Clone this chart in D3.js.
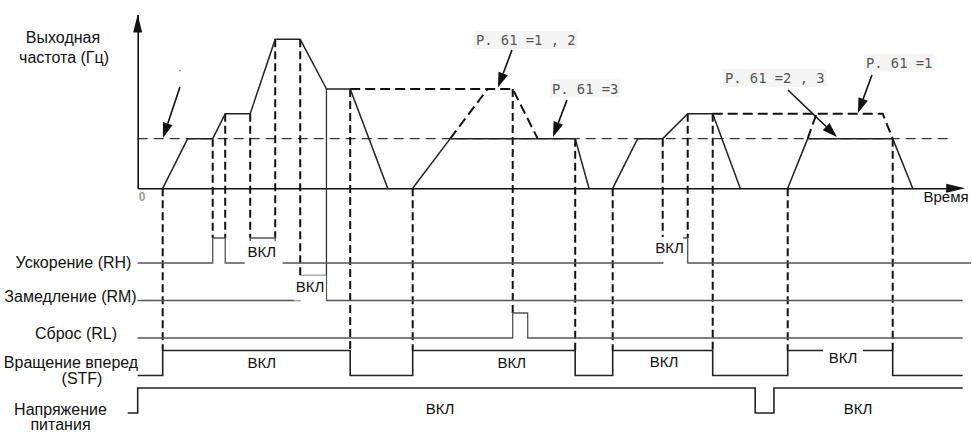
<!DOCTYPE html>
<html><head><meta charset="utf-8">
<script src="https://cdn.jsdelivr.net/npm/d3@7"></script>
<style>
body{margin:0;background:#fff;}
svg{display:block;}
text{font-family:"Liberation Sans",Arial,sans-serif;}
</style>
</head><body>
<svg id="c" width="972" height="433"></svg>
<script>
// ---------------- DATA ----------------
// time in arbitrary units, output frequency in Hz
const freqSolid = [
  [[1,0],[2,20],[3,20],[3.5,30],[4.5,30],[5.5,60],[6.5,60],[7.5,41],[7.55,40],[8.5,40],[10,0]],
  [[11,0],[12.5,20],[17.5,20],[18.05,0]],
  [[19,0],[20,20],[21,20],[22,30],[23,30],[24.1,0]],
  [[26,0],[26.8,20],[30.2,20],[31,0]]
];
const freqDashed = [
  [[8.5,40],[14,40],[15,40],[16,20]],
  [[12.5,20],[14,40]],
  [[23,30],[29.8,30],[30.2,20]],
  [[26.8,20],[27.15,30]]
];
const refFreq = 20;
const refSpan = [0, 32.4];

const rows = ["RH","RM","RL","STF","PWR"];
const rowLabels = [["Ускорение (RH)"],["Замедление (RM)"],["Сброс (RL)"],["Вращение вперед","(STF)"],["Напряжение","питания"]];
const rowSpan = [[0,33.33],[0,33],[0,33],[0,33],[-0.4,33]];
const rhOn  = [[3,3.5],[4.5,5.5],[21,22]];
const rmOn  = [[6.5,7.55]];
const rlOn  = [[15,15.6]];
const stfOn = [[1,8.5],[11,17.5],[19,23],[26,30.2]];
const pwrOn = [[0,24.7],[25.45,33]];

// sync (dashed) lines: time, frequency at top, row where they end
const syncT    = [1, 3, 3.5, 4.5, 5.5, 6.5, 8.5, 11, 15, 17.5, 19, 21, 22, 23, 26, 30.2];
const syncF    = [0, 20, 30, 30, 60, 60, 40, 0, 40, 20, 0, 20, 30, 30, 0, 20];
const syncRow  = ["STF","RH","RH","RH","RH","RM","STF","STF","RL","STF","STF","RH","RH","STF","STF","STF"];

const onText = "ВКЛ";
const onLabelT   = [4.96, 21.27, 6.89, 4.96, 14.96, 21.05, 28.21, 12.09, 28.81];
const onLabelRow = ["RH","RH","RM","STF","STF","STF","STF","PWR","PWR"];

const noteTexts = ["P. 61 =1 , 2", "P. 61 =3", "P. 61 =2 , 3", "P. 61 =1"];
const noteT     = [13.53, 16.57, 23.49, 29.13];
const noteF     = [59.7, 40.1, 44.4, 50.5];
const arrowFrom = [[1.69,40.8],[14.97,55.7],[17.17,35.5],[26.01,39.6],[29.37,45.6]];
const arrowTo   = [[1.01,20.3],[14.41,40.6],[16.61,20.7],[27.97,20.7],[28.81,30.3]];

// ---------------- DRAW ----------------
const svg = d3.select("#c");
const x = d3.scaleLinear().domain([0,33]).range([137.7,962.7]);
const y = d3.scaleLinear().domain([0,60]).range([188.3,39.3]);
const rowY = d3.scalePoint().domain(rows).range([263,413]);
const pulseH = 25;
const line = d3.line().x(d=>x(d[0])).y(d=>y(d[1]));

// reference dashed line
svg.append("path").attr("d", line([[refSpan[0],refFreq],[refSpan[1],refFreq]]))
  .attr("fill","none").attr("stroke","#333").attr("stroke-width",1.3).attr("stroke-dasharray","10,6");

// axes
const xAxisScale = d3.scaleLinear().domain([0,32.6]).range([x(0), x(32.6)]);
svg.append("g").attr("transform",`translate(0,${y(0)})`)
  .call(d3.axisBottom(xAxisScale).tickValues([]).tickSizeOuter(0))
  .select(".domain").attr("stroke","#111").attr("stroke-width",1.6);
const yAxisScale = d3.scaleLinear().domain([0,70]).range([y(0), y(70)]);
svg.append("g").attr("transform",`translate(${x(0)},0)`)
  .call(d3.axisLeft(yAxisScale).tickValues([]).tickSizeOuter(0))
  .select(".domain").attr("stroke","#111").attr("stroke-width",1.6);
// axis arrowheads
const yTop = yAxisScale(70), xEnd = x(33.1);
svg.append("path").attr("d",`M${x(0)},${yTop}L${x(0)-4.5},${yTop+18}L${x(0)+4.5},${yTop+18}Z`).attr("fill","#111");
svg.append("path").attr("d",`M${xEnd},${y(0)}L${xEnd-19},${y(0)-4.5}L${xEnd-19},${y(0)+4.5}Z`).attr("fill","#111");

svg.append("text").attr("x",x(0)+4.5).attr("y",y(0)+13).attr("text-anchor","middle")
  .attr("font-size",12).attr("font-weight","bold").attr("fill","#999").text("0");
svg.append("text").attr("x",946).attr("y",y(0)+14).attr("text-anchor","middle")
  .attr("font-size",15).attr("fill","#111").text("Время");
svg.append("text").attr("x",63).attr("y",37).attr("dy","0.35em").attr("text-anchor","middle")
  .attr("font-size",16).attr("fill","#111").text("Выходная");
svg.append("text").attr("x",64).attr("y",57).attr("dy","0.35em").attr("text-anchor","middle")
  .attr("font-size",16).attr("fill","#111").text("частота (Гц)");

// sync dashed verticals
syncT.forEach((t,i)=>{
  svg.append("line").attr("x1",x(t)).attr("x2",x(t))
    .attr("y1",y(syncF[i])).attr("y2",rowY(syncRow[i])-pulseH)
    .attr("stroke","#111").attr("stroke-width",2).attr("stroke-dasharray","8,4");
});
// solid vertical at RM release
svg.append("line").attr("x1",x(7.55)).attr("x2",x(7.55)).attr("y1",y(40)).attr("y2",rowY("RM")-pulseH)
  .attr("stroke","#333").attr("stroke-width",1.3);

// frequency curves
freqDashed.forEach(seg=>{
  svg.append("path").attr("d",line(seg)).attr("fill","none")
    .attr("stroke","#111").attr("stroke-width",2).attr("stroke-dasharray","10,5");
});
freqSolid.forEach(seg=>{
  svg.append("path").attr("d",line(seg)).attr("fill","none")
    .attr("stroke","#222").attr("stroke-width",1.5).attr("stroke-linejoin","round");
});

// signal rows
function stepPts(span, on){
  const pts=[[span[0],0]];
  on.forEach(([a,b])=>{
    pts.push([a,0],[a,1],[b,1]);
    if (b < span[1]) pts.push([b,0]);
  });
  if (on.length && on[on.length-1][1] >= span[1]) return pts;
  pts.push([span[1],0]);
  return pts;
}
const onSets = [rhOn, rmOn, rlOn, stfOn, pwrOn];
rows.forEach((r,i)=>{
  const base = rowY(r);
  const sl = d3.line().x(d=>x(d[0])).y(d=>base - d[1]*pulseH);
  const strong = (r==="STF"||r==="PWR");
  svg.append("path").attr("d", sl(stepPts(rowSpan[i], onSets[i]))).attr("fill","none")
    .attr("stroke", strong ? "#222" : "#555").attr("stroke-width", strong ? 1.6 : 1.3);
});

// row labels
const rowLabelX = [[73.5],[70.5],[76],[71,82],[60.5,60.5]];
const rowLabelY = [[262],[296],[333],[362,378.5],[409,424.5]];
rowLabels.forEach((ls,i)=>{
  ls.forEach((s,j)=>{
    svg.append("text").attr("x",rowLabelX[i][j]).attr("y",rowLabelY[i][j]).attr("dy","0.35em")
      .attr("text-anchor","middle").attr("font-size",16).attr("fill","#111").text(s);
  });
});

// ВКЛ labels (some with white background boxes)
const onLabelDy  = [-11, -15, -14, -12.5, -12.5, -13.5, -17.5, -4, -4];
const onLabelBox = [[38,25],[29,25],[32,25],null,null,null,[40,18],null,null];
onLabelT.forEach((t,i)=>{
  const cx = x(t), cy = rowY(onLabelRow[i]) + onLabelDy[i];
  if (onLabelBox[i]){
    const [w,h] = onLabelBox[i];
    const dx = (i===0)?2:(i===1?-1:0);
    svg.append("rect").attr("x",cx+dx-w/2).attr("y",cy-h/2+(i<3?1.5:-0.5)).attr("width",w).attr("height",h).attr("fill","#fff");
  }
  svg.append("text").attr("x",cx).attr("y",cy).attr("dy","0.35em").attr("text-anchor","middle")
    .attr("font-size",15).attr("fill","#111").text(onText);
});

// notes
noteTexts.forEach((s,i)=>{
  const t = svg.append("text").attr("x",x(noteT[i])).attr("y",y(noteF[i])).attr("dy","0.35em")
    .style("font-family","'DejaVu Sans Mono',monospace").attr("font-size",13.8).attr("fill","#555").text(s);
  const bb = t.node().getBBox();
  svg.insert("rect", () => t.node()).attr("x",bb.x-2).attr("y",bb.y-1).attr("width",bb.width+4).attr("height",bb.height+2)
    .attr("fill","#f5f5f5");
});
svg.append("text").attr("x",x(1.6)).attr("y",y(46)).attr("font-size",12).attr("fill","#555").text("·");

// annotation arrows
arrowFrom.forEach((f,i)=>{
  const x1=x(f[0]), y1=y(f[1]), x2=x(arrowTo[i][0]), y2=y(arrowTo[i][1]);
  const dx=x2-x1, dy=y2-y1, L=Math.hypot(dx,dy), ux=dx/L, uy=dy/L;
  const hl=15, hw=5;
  const bx=x2-ux*hl, by=y2-uy*hl;
  svg.append("line").attr("x1",x1).attr("y1",y1).attr("x2",bx).attr("y2",by).attr("stroke","#111").attr("stroke-width",1.6);
  svg.append("path").attr("d",`M${x2},${y2}L${bx-uy*hw},${by+ux*hw}L${bx+uy*hw},${by-ux*hw}Z`).attr("fill","#111");
});
</script>
</body></html>
